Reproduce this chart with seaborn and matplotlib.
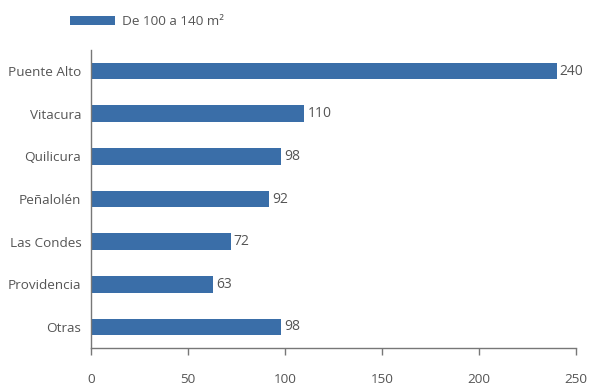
import matplotlib
matplotlib.use("Agg")
import matplotlib.pyplot as plt
import seaborn as sns
import pandas as pd
from matplotlib.patches import Patch

categories = ["Puente Alto", "Vitacura", "Quilicura", "Peñalolén", "Las Condes", "Providencia", "Otras"]
values = [240, 110, 98, 92, 72, 63, 98]
series_name = "De 100 a 140 m²"
xticks = [0, 50, 100, 150, 200, 250]

df = pd.DataFrame({"cat": categories, "val": values})

sns.set_style("white")
plt.rcParams["font.family"] = ["Open Sans", "DejaVu Sans"]
color = "#3A6EA8"
gray = "#555555"

fig = plt.figure(figsize=(5.94, 3.86), dpi=100)
ax = fig.add_axes([0.1532, 0.0977, 0.8165, 0.7735])
sns.barplot(data=df, x="val", y="cat", color=color, width=0.39, saturation=1, ax=ax,
            orient="h", linewidth=0)

for i, v in enumerate(values):
    ax.text(v + 1.5, i, str(v), va="center", ha="left", fontsize=10, color=gray)

ax.set_xlim(0, 250)
ax.set_ylim(6.5, -0.5)
ax.set_xticks(xticks)
ax.set_xticklabels([str(t) for t in xticks])
ax.set_xlabel("")
ax.set_ylabel("")
for s in ["top", "right"]:
    ax.spines[s].set_visible(False)
for s in ["left", "bottom"]:
    ax.spines[s].set_color("#777777")
    ax.spines[s].set_linewidth(1.0)
ax.tick_params(axis="x", length=5, width=1, color="#777777", direction="out", pad=13, labelsize=9.7, labelcolor=gray, bottom=True)
ax.tick_params(axis="y", length=0, pad=7, labelsize=9.7, labelcolor=gray)

fig.legend(handles=[Patch(color=color, linewidth=0, label=series_name)], loc="upper left",
           bbox_to_anchor=(0.098, 0.992), frameon=False, fontsize=9.7,
           handlelength=3.3, handleheight=0.6, labelcolor=gray, handletextpad=0.55)

fig.savefig("out.png", dpi=100)
